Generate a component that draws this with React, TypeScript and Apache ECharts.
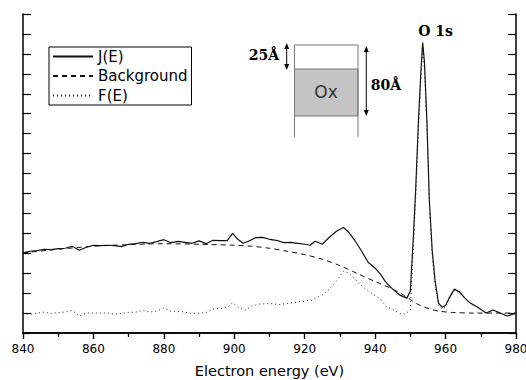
import React, { useEffect, useRef } from "react";
import * as echarts from "echarts";

const xTicks = [840, 860, 880, 900, 920, 940, 960, 980];

const jE: number[][] = [
  [840, 4.02], [842, 4.1], [844, 4.13], [846, 4.2], [848, 4.18], [850, 4.23], [852, 4.25], [854, 4.35],
  [856, 4.15], [858, 4.3], [860, 4.4], [862, 4.38], [864, 4.4], [866, 4.38], [868, 4.33], [870, 4.45],
  [872, 4.48], [874, 4.55], [876, 4.5], [878, 4.58], [880, 4.68], [882, 4.53], [884, 4.6], [886, 4.55],
  [888, 4.5], [890, 4.62], [892, 4.48], [894, 4.65], [896, 4.63], [898, 4.63], [899.5, 5.0], [901, 4.7],
  [902.5, 4.5], [904, 4.6], [906, 4.78], [908, 4.8], [910, 4.7], [912, 4.65], [914, 4.53], [916, 4.55],
  [918, 4.5], [920, 4.45], [921.5, 4.4], [923, 4.6], [925, 4.45], [927, 4.8], [929, 5.1], [931, 5.29],
  [932.5, 5.05], [934, 4.7], [936, 4.15], [938, 3.55], [940, 3.25], [941.5, 2.95], [943, 2.55], [945, 2.2],
  [947, 1.9], [949, 1.75], [950, 2.1], [950.8, 4.65], [951.5, 7.15], [952.3, 10.65], [953, 13.15],
  [953.5, 14.57], [954, 13.6], [954.7, 10.65], [955.4, 6.65], [956.2, 4.15], [957, 2.65], [958, 1.5],
  [959, 1.3], [960, 1.38], [961, 1.75], [962.5, 2.2], [964, 2.05], [965.5, 1.75], [967, 1.5], [969, 1.3],
  [971.5, 1.0], [973.5, 1.15], [975.5, 1.0], [977.5, 0.85], [980, 1.0],
];

const background: number[][] = [
  [840, 4.02], [850, 4.2], [860, 4.35], [870, 4.43], [880, 4.48], [890, 4.45], [900, 4.4], [905, 4.35],
  [910, 4.25], [915, 4.1], [920, 3.93], [925, 3.7], [930, 3.38], [935, 2.98], [940, 2.58], [945, 2.2],
  [948, 1.9], [950, 1.68], [952, 1.45], [955, 1.23], [958, 1.1], [962, 1.03], [968, 1.0], [975, 1.0],
  [980, 1.0],
];

const fE: number[][] = [
  [840, 0.99], [842, 0.95], [844, 1.0], [846, 1.05], [848, 0.98], [850, 1.03], [852, 1.05], [854, 1.13],
  [856, 0.85], [858, 1.0], [860, 1.0], [862, 1.0], [864, 1.0], [866, 0.95], [868, 0.98], [870, 1.03],
  [872, 1.05], [874, 1.13], [876, 1.05], [878, 1.1], [880, 1.25], [882, 1.1], [884, 1.08], [886, 1.05],
  [888, 0.98], [890, 1.0], [892, 1.03], [894, 1.2], [896, 1.23], [898, 1.28], [899.5, 1.52], [901, 1.3],
  [903, 1.13], [905, 1.35], [907, 1.45], [910, 1.48], [913, 1.43], [916, 1.5], [919, 1.58], [922, 1.65],
  [925, 1.9], [927, 2.2], [929, 2.6], [931, 3.1], [932.5, 3.0], [934, 2.75], [936, 2.4], [938, 2.1],
  [940, 1.88], [941.5, 1.7], [943, 1.35], [945, 1.18], [947, 0.98], [948.5, 0.95], [950, 1.15],
  [950.8, 4.1], [951.5, 6.7], [952.3, 10.2], [953, 12.7], [953.5, 14.1], [954, 13.2], [954.7, 10.3],
  [955.4, 6.35], [956.2, 3.9], [957, 2.45], [958, 1.4], [959, 1.2], [960, 1.3], [961, 1.7], [962.5, 2.15],
  [964, 2.0], [965.5, 1.72], [967, 1.5], [969, 1.3], [971.5, 1.0], [973.5, 1.15], [975.5, 1.0],
  [977.5, 0.85], [980, 1.0],
];

const seriesNames = ["J(E)", "Background", "F(E)"];

export default function App() {
  const ref = useRef<HTMLDivElement>(null);
  useEffect(() => {
    if (!ref.current) return;
    const chart = echarts.init(ref.current, undefined, { renderer: "svg" });
    const sans = "DejaVu Sans";
    const serif = "DejaVu Serif";
    const axisLine = { show: true, lineStyle: { color: "#000", width: 1.5 } };
    const arrow = (x: number, y1: number, y2: number) => [
      { type: "line", shape: { x1: x, y1: y1 + 4, x2: x, y2: y2 - 4 }, style: { stroke: "#000", lineWidth: 1 } },
      { type: "polygon", shape: { points: [[x - 2.5, y1 + 6], [x + 2.5, y1 + 6], [x, y1]] }, style: { fill: "#000" } },
      { type: "polygon", shape: { points: [[x - 2.5, y2 - 6], [x + 2.5, y2 - 6], [x, y2]] }, style: { fill: "#000" } },
    ];
    chart.setOption({
      animation: false,
      grid: { left: 23, right: 10, top: 14, bottom: 47, containLabel: false, outerBoundsMode: "none" },
      legend: {
        orient: "vertical",
        left: 49,
        top: 47,
        data: seriesNames,
        borderColor: "#000",
        borderWidth: 1,
        padding: [2, 4, 2, 3],
        itemGap: 4.5,
        itemWidth: 40,
        itemHeight: 12,
        itemStyle: { color: "transparent", borderWidth: 0, opacity: 0 },
        textStyle: { fontFamily: sans, fontSize: 15, color: "#000" },
      },
      xAxis: [
        {
          type: "value",
          min: 840,
          max: 980,
          interval: 20,
          position: "bottom",
          axisLine,
          axisTick: { show: true, inside: false, length: 6, lineStyle: { color: "#000", width: 1.2 } },
          minorTick: { show: true, splitNumber: 2, length: 3, lineStyle: { color: "#000", width: 1.2 } },
          splitLine: { show: false },
          axisLabel: {
            margin: 10,
            color: "#000",
            fontFamily: sans,
            fontSize: 12,
            customValues: xTicks,
          },
          name: "Electron energy (eV)",
          nameLocation: "middle",
          nameGap: 30,
          nameTextStyle: { fontFamily: sans, fontSize: 14.5, color: "#000" },
        },
        {
          type: "value",
          min: 840,
          max: 980,
          interval: 20,
          position: "top",
          axisLine,
          axisTick: { show: true, inside: true, length: 6, lineStyle: { color: "#000", width: 1.2 } },
          minorTick: { show: true, splitNumber: 2, length: 4, lineStyle: { color: "#000", width: 1.2 } },
          splitLine: { show: false },
          axisLabel: { show: false },
        },
      ],
      yAxis: [
        {
          type: "value",
          min: 0,
          max: 16,
          interval: 1,
          position: "left",
          axisLine,
          axisTick: { show: true, inside: true, length: 8, lineStyle: { color: "#000", width: 1.2 } },
          splitLine: { show: false },
          axisLabel: { show: false },
        },
        {
          type: "value",
          min: 0,
          max: 16,
          interval: 1,
          position: "right",
          axisLine,
          axisTick: { show: true, inside: true, length: 8, lineStyle: { color: "#000", width: 1.2 } },
          splitLine: { show: false },
          axisLabel: { show: false },
        },
      ],
      series: [
        {
          name: seriesNames[0],
          type: "line",
          data: jE,
          symbol: "none",
          lineStyle: { color: "#111", width: 1.2, type: "solid" },
          itemStyle: { color: "#111" },
        },
        {
          name: seriesNames[1],
          type: "line",
          data: background,
          symbol: "none",
          smooth: 0.3,
          lineStyle: { color: "#111", width: 1, type: [5, 4] },
          itemStyle: { color: "#111" },
        },
        {
          name: seriesNames[2],
          type: "line",
          data: fE,
          symbol: "none",
          lineStyle: { color: "#222", width: 1, type: [1, 3] },
          itemStyle: { color: "#222" },
        },
      ],
      graphic: [
        { type: "rect", shape: { x: 294.5, y: 69, width: 63.5, height: 47 }, style: { fill: "#c4c4c4", stroke: "#777", lineWidth: 1 } },
        { type: "line", shape: { x1: 294.5, y1: 45, x2: 358, y2: 45 }, style: { stroke: "#777", lineWidth: 1 } },
        { type: "line", shape: { x1: 294.5, y1: 45, x2: 294.5, y2: 137 }, style: { stroke: "#777", lineWidth: 1 } },
        { type: "line", shape: { x1: 358, y1: 45, x2: 358, y2: 137 }, style: { stroke: "#777", lineWidth: 1 } },
        {
          type: "text",
          x: 326,
          y: 92,
          style: { text: "Ox", fontFamily: sans, fontSize: 17, fill: "#333", align: "center", verticalAlign: "middle" },
        },
        ...arrow(286.7, 43, 70),
        ...arrow(366.3, 46, 116),
        {
          type: "text",
          x: 264,
          y: 55,
          style: { text: "25Å", fontFamily: serif, fontWeight: "bold", fontSize: 14, fill: "#000", align: "center", verticalAlign: "middle" },
        },
        {
          type: "text",
          x: 386,
          y: 85,
          style: { text: "80Å", fontFamily: serif, fontWeight: "bold", fontSize: 14, fill: "#000", align: "center", verticalAlign: "middle" },
        },
        {
          type: "text",
          x: 435.5,
          y: 31,
          style: { text: "O 1s", fontFamily: serif, fontWeight: "bold", fontSize: 14, fill: "#000", align: "center", verticalAlign: "middle" },
        },
      ],
    });
    return () => chart.dispose();
  }, []);
  return <div ref={ref} style={{ width: 526, height: 380, position: "absolute", left: 0, top: 0 }} />;
}
